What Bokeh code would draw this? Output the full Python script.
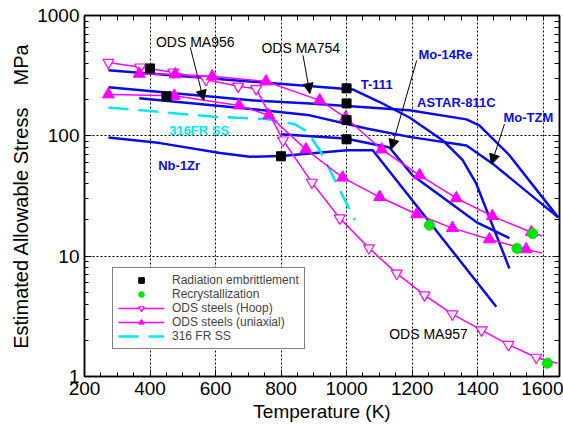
from bokeh.plotting import figure
from bokeh.models import (FixedTicker, LogAxis, LinearAxis, Legend, LegendItem,
                          Label, Arrow, NormalHead)
from bokeh.embed import file_html
from bokeh.resources import INLINE

FONT = "Liberation Sans"

# ---------------- data (Temperature K, Stress MPa) ----------------
t111_T = [273, 1019, 1101, 1192, 1293, 1354, 1396, 1497]
t111_S = [350, 243, 191, 142, 92, 63, 40, 7.9]

astar_T = [273, 717, 888, 1192, 1366, 1405, 1497, 1646]
astar_S = [253, 197, 186, 163, 137, 122, 69, 21]

motzm_T = [367, 717, 888, 1061, 1192, 1366, 1445, 1646]
motzm_S = [205, 166, 148, 115, 98, 83, 59, 21]

mo14re_T = [800, 997, 1131, 1201, 1396, 1497]
mo14re_S = [103, 95, 80, 47, 19.2, 14.1]

nb1zr_T = [273, 431, 614, 705, 800, 1001, 1080, 1457]
nb1zr_S = [97, 87, 72, 67, 68, 76, 76, 3.8]

ss316_T = [273, 431, 599, 754, 842, 879, 918, 970, 1025]
ss316_S = [172, 158, 144, 138, 125, 109, 76, 40, 19.9]

ma957_T = [273, 370, 471, 571, 669, 724, 806, 894, 979, 1068, 1153, 1238, 1323, 1412, 1494, 1579]
ma957_S = [407, 372, 338, 293, 258, 246, 92, 41, 20.7, 11.7, 7.2, 4.75, 3.3, 2.43, 1.84, 1.44]
ma957_end = (1643, 1.29)

ma754_T = [367, 477, 590, 754, 918, 997, 1107, 1223, 1335, 1445, 1564]
ma754_S = [328, 324, 312, 283, 197, 142, 77, 47, 30.3, 21.5, 15.8]
ma754_end = (1597, 14.7)

ma956_T = [273, 474, 672, 763, 876, 988, 1101, 1214, 1323, 1436, 1548]
ma956_S = [221, 215, 179, 148, 77, 45, 31, 22.3, 17.1, 13.8, 11.4]
ma956_end = (1597, 10.6)

embr_T = [400, 450, 800, 1000, 1000, 1000, 1000]
embr_S = [363, 213, 67.6, 248, 186, 135, 93.6]

recr_T = [1253, 1568, 1520, 1613]
recr_S = [18.1, 15.4, 11.6, 1.29]

x_ticks = [200, 400, 600, 800, 1000, 1200, 1400, 1600]
y_ticks = [1, 10, 100, 1000]
y_tick_labels = ["1", "10", "100", "1000"]

# ---------------- figure ----------------
BLUE = "#0a0aee"
MAG = "#ff00ff"
CYAN = "#00e8f0"
GREEN = "#00e600"

p = figure(width=563, height=430, x_range=(200, 1650), y_range=(1, 1000),
           y_axis_type="log", output_backend="svg", toolbar_location=None,
           min_border_left=84, min_border_right=4, min_border_top=15,
           min_border_bottom=54, background_fill_color="white",
           border_fill_color="white")
p.outline_line_color = "black"
p.outline_line_width = 1.5

x_minor = [v for v in range(200, 1651, 50) if v not in x_ticks]
y_minor = [m * d for d in (1, 10, 100) for m in range(2, 10)]
xt = FixedTicker(ticks=x_ticks, minor_ticks=x_minor)
yt = FixedTicker(ticks=y_ticks, minor_ticks=y_minor)

p.xaxis.ticker = xt
p.yaxis.ticker = yt
p.yaxis.major_label_overrides = {v: s for v, s in zip(y_ticks, y_tick_labels)}
p.xaxis.major_label_overrides = {v: str(v) for v in x_ticks}

for ax in (p.xaxis[0], p.yaxis[0]):
    ax.major_tick_in = 7
    ax.major_tick_out = 0
    ax.minor_tick_in = 4
    ax.minor_tick_out = 0
    ax.axis_line_width = 1.5
    ax.major_label_text_font = FONT
    ax.major_label_text_font_size = "19px"
    ax.major_label_text_color = "black"
    ax.axis_label_text_font = FONT
    ax.axis_label_text_font_size = "19px"
    ax.axis_label_text_font_style = "normal"
    ax.axis_label_text_color = "black"
    ax.major_label_standoff = 5
    ax.axis_label_standoff = 3

p.yaxis.axis_label_text_font_size = "20px"
p.yaxis.axis_label_standoff = 2
p.xaxis.axis_label = "Temperature (K)"
p.yaxis.axis_label = "Estimated Allowable Stress\u00a0\u00a0\u00a0\u00a0MPa"

# extra tick-only axes (no labels) on the right and top
rax = LogAxis(ticker=FixedTicker(ticks=[], minor_ticks=y_ticks + y_minor),
              minor_tick_in=5, minor_tick_out=0, major_tick_in=0, major_tick_out=0,
              axis_line_width=1.5)
p.add_layout(rax, "right")
tax = LinearAxis(ticker=FixedTicker(ticks=[], minor_ticks=x_ticks + x_minor),
                 minor_tick_in=5, minor_tick_out=0, major_tick_in=0, major_tick_out=0,
                 axis_line_width=1.5)
p.add_layout(tax, "above")

for g in (p.xgrid[0], p.ygrid[0]):
    g.grid_line_color = "black"
    g.grid_line_dash = "2 2"
    g.grid_line_width = 1
    g.grid_line_alpha = 1
p.xgrid.ticker = xt
p.ygrid.ticker = yt

# ---------------- blue refractory alloy curves ----------------
for T, S in ((t111_T, t111_S), (astar_T, astar_S), (motzm_T, motzm_S),
             (mo14re_T, mo14re_S), (nb1zr_T, nb1zr_S)):
    p.line(T, S, line_color=BLUE, line_width=2.5)

# ---------------- 316FR SS ----------------
r_ss = p.line(ss316_T, ss316_S, line_color=CYAN, line_width=2.5, line_dash="20 10")

# ---------------- ODS steels ----------------
r_hoop_l = p.line(ma957_T + [ma957_end[0]], ma957_S + [ma957_end[1]],
                  line_color=MAG, line_width=1.5)
r_hoop_m = p.scatter(ma957_T, ma957_S, marker="inverted_triangle", size=11,
                     line_color=MAG, fill_color="white", line_width=1.2)

r_uni_l = p.line(ma754_T + [ma754_end[0]], ma754_S + [ma754_end[1]],
                 line_color=MAG, line_width=1.5)
r_uni_m = p.scatter(ma754_T, ma754_S, marker="triangle", size=12,
                    line_color=MAG, fill_color=MAG)
p.line(ma956_T + [ma956_end[0]], ma956_S + [ma956_end[1]],
       line_color=MAG, line_width=1.5)
p.scatter(ma956_T, ma956_S, marker="triangle", size=12,
          line_color=MAG, fill_color=MAG)

# ---------------- markers ----------------
r_embr = p.scatter(embr_T, embr_S, marker="square", size=9,
                   line_color="black", fill_color="black")
r_recr = p.scatter(recr_T, recr_S, marker="circle", size=10,
                   line_color=GREEN, fill_color=GREEN)

# ---------------- labels ----------------
def lab(x, y, text, color="black", bold=False, size="14px"):
    p.add_layout(Label(x=x, y=y, text=text, text_color=color, text_font=FONT,
                       text_font_size=size,
                       text_font_style="bold" if bold else "normal",
                       text_align="center", text_baseline="middle"))

lab(538, 608, "ODS MA956")
lab(860, 532, "ODS MA754")
lab(1250, 2.25, "ODS MA957")
lab(1302, 475, "Mo-14Re", BLUE, True, "13px")
lab(1092, 268, "T-111", BLUE, True, "13px")
lab(1335, 188, "ASTAR-811C", BLUE, True, "13px")
lab(1555, 141, "Mo-TZM", BLUE, True, "13px")
lab(489, 57, "Nb-1Zr", BLUE, True, "13px")
lab(550, 111, "316FR SS", CYAN, True, "13px")

def arrow(x0, y0, x1, y1):
    p.add_layout(Arrow(end=NormalHead(size=10, fill_color="black", line_color="black"),
                       x_start=x0, y_start=y0, x_end=x1, y_end=y1,
                       line_color="black", line_width=1))

arrow(523, 543, 564, 197)
arrow(867, 466, 888, 225)
arrow(1214, 423, 1136, 77)
arrow(1482, 125, 1442, 58)

# ---------------- legend ----------------
legend = Legend(items=[
    LegendItem(label="Radiation embrittlement", renderers=[r_embr]),
    LegendItem(label="Recrystallization", renderers=[r_recr]),
    LegendItem(label="ODS steels (Hoop)", renderers=[r_hoop_l, r_hoop_m]),
    LegendItem(label="ODS steels (uniaxial)", renderers=[r_uni_l, r_uni_m]),
    LegendItem(label="316 FR SS", renderers=[r_ss]),
], location=(28, 27))
legend.label_text_font = FONT
legend.label_text_font_size = "12px"
legend.label_height = 14
legend.glyph_height = 14
legend.glyph_width = 46
legend.label_standoff = 8
legend.spacing = 0
legend.padding = 5
legend.margin = 0
legend.border_line_color = "black"
legend.border_line_width = 1.5
legend.background_fill_color = "white"
legend.background_fill_alpha = 1
p.add_layout(legend, "center")

open("out.html", "w").write(file_html(p, INLINE))
